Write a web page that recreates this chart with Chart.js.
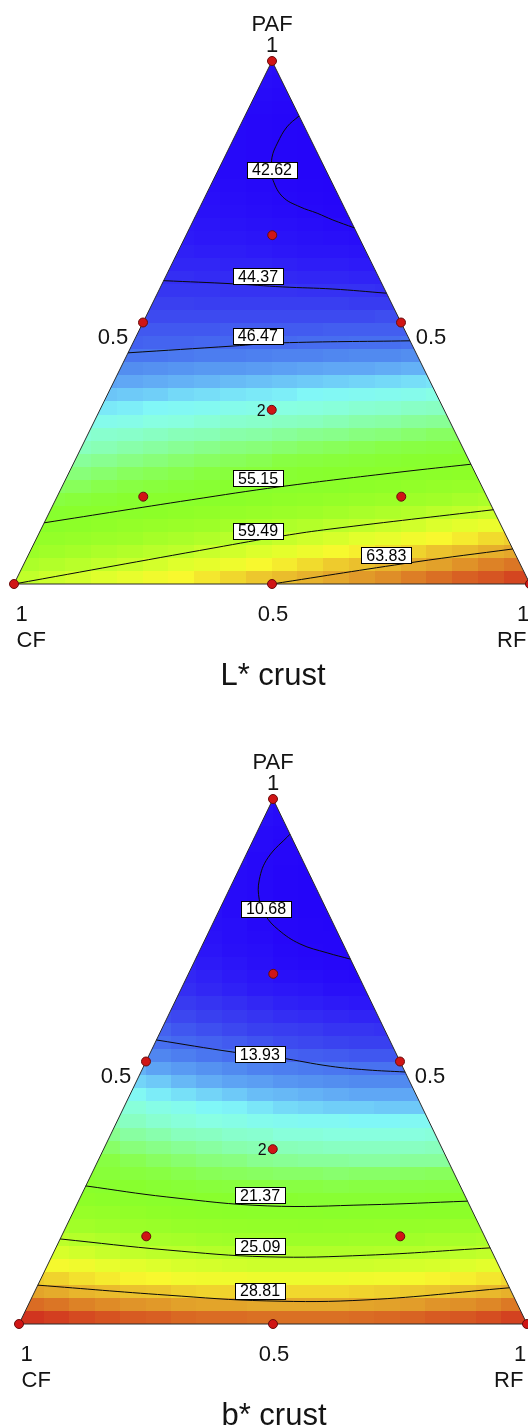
<!DOCTYPE html>
<html>
<head>
<meta charset="utf-8">
<script src="https://cdn.jsdelivr.net/npm/chart.js@4.4.1/dist/chart.umd.min.js"></script>
<style>
html,body{margin:0;padding:0;background:#ffffff;}
canvas{display:block;}
</style>
</head>
<body>
<canvas id="c1" width="528" height="713"></canvas>
<canvas id="c2" width="528" height="714"></canvas>
<script>
// ---------------- DATA ----------------
const tickText = ['1', '0.5'];
const cornerNames = ['PAF', 'CF', 'RF'];

// triangle frame in mixture fractions (PAF, RF); CF = 1 - PAF - RF
const framePAF = [0, 0, 1, 0];
const frameRF  = [0, 1, 0, 0];

// design points (augmented simplex-centroid)
const designPAF = [1, 0, 0, 0.5, 0.5, 0, 0.333, 0.667, 0.167, 0.167];
const designRF  = [0, 0, 1, 0, 0.5, 0.5, 0.333, 0.167, 0.167, 0.667];
const designReps = [1, 1, 1, 1, 1, 1, 2, 1, 1, 1];

// ----- L* crust -----
const lTitle = 'L* crust';
const lLevels = ['42.62', '44.37', '46.47', '55.15', '59.49', '63.83'];
const lContourPAF = [
  [0.895, 0.874, 0.843, 0.816, 0.792, 0.772, 0.740, 0.721, 0.709, 0.696, 0.681],
  [0.580, 0.574, 0.568, 0.564, 0.556],
  [0.442, 0.455, 0.461, 0.465],
  [0.117, 0.161, 0.186, 0.214, 0.229],
  [0.000, 0.069, 0.092, 0.105, 0.142],
  [0.000, 0.042, 0.067]
];
const lContourRF = [
  [0.105, 0.092, 0.089, 0.092, 0.104, 0.116, 0.151, 0.194, 0.233, 0.270, 0.319],
  [0.000, 0.137, 0.237, 0.336, 0.444],
  [0.000, 0.197, 0.285, 0.535],
  [0.000, 0.263, 0.423, 0.641, 0.771],
  [0.000, 0.353, 0.475, 0.560, 0.858],
  [0.500, 0.756, 0.933]
];
const lLabelPAF = [0.792, 0.588, 0.475, 0.202, 0.102, 0.055];
const lLabelRF  = [0.104, 0.179, 0.235, 0.372, 0.422, 0.694];
const lColorRange = [42.0, 67.5];
// response grid: 40 rows (PAF bands, bottom->top), cells of 1/20 width centred in each row
const lGrid = [
  [59.7,60.1,60.4,60.8,61.2,61.6,61.9,62.3,62.7,63.1,63.4,63.8,64.2,64.6,64.9,65.3,65.7,66.1,66.4,66.8],
  [58.6,58.9,59.3,59.7,60.0,60.4,60.8,61.1,61.5,61.9,62.2,62.6,63.0,63.3,63.7,64.1,64.4,64.8,65.2,65.5],
  [57.5,57.9,58.2,58.6,58.9,59.3,59.6,60.0,60.3,60.7,61.0,61.4,61.8,62.1,62.5,62.8,63.2,63.5,63.9,64.2],
  [56.5,56.8,57.1,57.5,57.8,58.2,58.5,58.8,59.2,59.5,59.9,60.2,60.5,60.9,61.2,61.6,61.9,62.2,62.6,62.9],
  [55.8,56.1,56.4,56.8,57.1,57.4,57.7,58.1,58.4,58.7,59.0,59.4,59.7,60.0,60.3,60.7,61.0,61.3],
  [54.8,55.1,55.4,55.7,56.0,56.3,56.6,56.9,57.2,57.5,57.8,58.1,58.4,58.7,59.0,59.4,59.7,60.0],
  [53.8,54.1,54.4,54.7,55.0,55.2,55.5,55.8,56.1,56.4,56.6,56.9,57.2,57.5,57.8,58.0,58.3,58.6],
  [53.0,53.2,53.5,53.7,54.0,54.3,54.5,54.8,55.0,55.3,55.6,55.8,56.1,56.3,56.6,56.9,57.1,57.4],
  [52.6,52.8,53.1,53.3,53.5,53.8,54.0,54.2,54.5,54.7,54.9,55.2,55.4,55.6,55.9,56.1],
  [52.0,52.2,52.4,52.6,52.8,53.0,53.2,53.4,53.7,53.9,54.1,54.3,54.5,54.7,54.9,55.1],
  [51.3,51.5,51.7,51.9,52.1,52.3,52.5,52.6,52.8,53.0,53.2,53.4,53.6,53.7,53.9,54.1],
  [50.7,50.9,51.0,51.2,51.4,51.5,51.7,51.8,52.0,52.2,52.3,52.5,52.6,52.8,53.0,53.1],
  [50.1,50.2,50.4,50.5,50.7,50.9,51.0,51.2,51.3,51.5,51.7,51.8,52.0,52.1],
  [49.4,49.5,49.7,49.8,49.9,50.1,50.2,50.4,50.5,50.6,50.8,50.9,51.1,51.2],
  [48.7,48.8,48.9,49.1,49.2,49.3,49.4,49.5,49.7,49.8,49.9,50.0,50.1,50.3],
  [48.0,48.1,48.2,48.3,48.4,48.5,48.6,48.7,48.8,48.9,49.0,49.1,49.2,49.3],
  [47.4,47.5,47.6,47.7,47.7,47.8,47.9,48.0,48.1,48.1,48.2,48.3],
  [46.7,46.7,46.8,46.9,46.9,47.0,47.1,47.1,47.2,47.3,47.3,47.4],
  [46.0,46.1,46.1,46.2,46.2,46.3,46.3,46.4,46.4,46.5,46.5,46.6],
  [45.7,45.7,45.7,45.7,45.8,45.8,45.8,45.8,45.9,45.9,45.9,45.9],
  [45.3,45.3,45.3,45.3,45.3,45.3,45.3,45.3,45.3,45.4],
  [45.0,45.0,44.9,44.9,44.9,44.9,44.9,44.9,44.8,44.8],
  [44.6,44.6,44.6,44.5,44.5,44.5,44.4,44.4,44.4,44.3],
  [44.3,44.3,44.2,44.2,44.1,44.1,44.0,44.0,43.9,43.9],
  [44.0,44.0,43.9,43.9,43.8,43.7,43.7,43.6],
  [43.8,43.7,43.7,43.6,43.5,43.4,43.4,43.3],
  [43.6,43.5,43.5,43.4,43.3,43.2,43.1,43.0],
  [43.5,43.4,43.3,43.2,43.1,43.0,42.9,42.8],
  [43.2,43.1,43.0,42.9,42.8,42.7],
  [43.1,43.0,42.9,42.8,42.7,42.6],
  [43.0,42.9,42.8,42.7,42.6,42.5],
  [42.9,42.8,42.7,42.6,42.5,42.4],
  [42.8,42.7,42.6,42.5],
  [42.8,42.7,42.6,42.5],
  [42.8,42.7,42.6,42.5],
  [42.8,42.7,42.6,42.5],
  [42.8,42.7],
  [42.9,42.8],
  [43.0,42.9],
  [43.1,43.0]
];

// ----- b* crust -----
const bTitle = 'b* crust';
const bLevels = ['10.68', '13.93', '21.37', '25.09', '28.81'];
const bContourPAF = [
  [0.933, 0.888, 0.846, 0.808, 0.779, 0.751, 0.724, 0.707, 0.695],
  [0.541, 0.518, 0.507, 0.491, 0.484, 0.480],
  [0.263, 0.242, 0.225, 0.227, 0.234],
  [0.162, 0.141, 0.128, 0.131, 0.145],
  [0.074, 0.055, 0.044, 0.046, 0.069]
];
const bContourRF = [
  [0.067, 0.046, 0.050, 0.069, 0.095, 0.135, 0.191, 0.253, 0.305],
  [0.000, 0.162, 0.260, 0.367, 0.443, 0.520],
  [0.000, 0.170, 0.376, 0.572, 0.766],
  [0.000, 0.221, 0.424, 0.619, 0.855],
  [0.000, 0.264, 0.466, 0.662, 0.931]
];
const bLabelPAF = [0.791, 0.514, 0.245, 0.148, 0.063];
const bLabelRF  = [0.091, 0.217, 0.352, 0.401, 0.443];
const bColorRange = [10.0, 32.2];
const bGrid = [
  [32.0,31.8,31.5,31.3,31.1,31.0,30.8,30.7,30.7,30.6,30.6,30.6,30.6,30.7,30.8,30.9,31.1,31.2,31.4,31.7],
  [30.7,30.5,30.2,30.0,29.8,29.7,29.5,29.4,29.4,29.3,29.3,29.3,29.3,29.4,29.5,29.6,29.8,29.9,30.1,30.4],
  [29.4,29.2,28.9,28.7,28.5,28.4,28.2,28.1,28.1,28.0,28.0,28.0,28.0,28.1,28.2,28.3,28.4,28.6,28.8,29.0],
  [28.3,28.1,27.8,27.6,27.4,27.3,27.1,27.0,27.0,26.9,26.9,26.9,26.9,27.0,27.1,27.2,27.4,27.5,27.7,28.0],
  [27.2,27.0,26.7,26.5,26.3,26.1,26.0,25.9,25.8,25.8,25.8,25.8,25.8,25.9,26.0,26.1,26.3,26.5],
  [26.1,25.9,25.6,25.4,25.2,25.1,24.9,24.8,24.7,24.7,24.7,24.7,24.7,24.8,24.9,25.0,25.2,25.4],
  [25.2,24.9,24.6,24.4,24.2,24.1,23.9,23.8,23.8,23.7,23.7,23.7,23.8,23.8,23.9,24.1,24.2,24.4],
  [24.2,23.9,23.7,23.5,23.3,23.1,23.0,22.9,22.8,22.8,22.7,22.8,22.8,22.9,23.0,23.1,23.3,23.4],
  [23.2,23.0,22.7,22.5,22.3,22.1,22.0,21.9,21.8,21.8,21.7,21.8,21.8,21.9,22.0,22.1],
  [22.4,22.1,21.8,21.6,21.4,21.3,21.1,21.0,21.0,20.9,20.9,20.9,20.9,21.0,21.1,21.3],
  [21.6,21.3,21.1,20.9,20.7,20.5,20.4,20.3,20.2,20.2,20.1,20.2,20.2,20.3,20.4,20.5],
  [20.9,20.6,20.4,20.2,20.0,19.8,19.7,19.6,19.5,19.5,19.4,19.5,19.5,19.6,19.7,19.8],
  [20.2,19.9,19.6,19.4,19.2,19.1,18.9,18.8,18.7,18.7,18.6,18.6,18.7,18.7],
  [19.5,19.2,19.0,18.8,18.6,18.4,18.3,18.2,18.1,18.0,18.0,18.0,18.0,18.1],
  [18.9,18.6,18.4,18.1,18.0,17.8,17.7,17.5,17.5,17.4,17.4,17.4,17.4,17.5],
  [18.3,18.0,17.7,17.5,17.3,17.2,17.0,16.9,16.8,16.8,16.7,16.7,16.8,16.8],
  [17.5,17.2,17.0,16.7,16.6,16.4,16.2,16.1,16.0,16.0,15.9,15.9],
  [16.8,16.5,16.3,16.1,15.9,15.7,15.6,15.5,15.4,15.3,15.3,15.3],
  [16.1,15.9,15.6,15.4,15.2,15.1,14.9,14.8,14.7,14.6,14.6,14.6],
  [15.5,15.2,15.0,14.8,14.6,14.4,14.3,14.2,14.1,14.0,14.0,13.9],
  [14.5,14.3,14.1,13.9,13.7,13.5,13.4,13.3,13.2,13.2],
  [13.9,13.7,13.5,13.3,13.1,12.9,12.8,12.7,12.6,12.6],
  [13.5,13.2,13.0,12.8,12.6,12.5,12.4,12.2,12.2,12.1],
  [13.0,12.8,12.6,12.4,12.2,12.0,11.9,11.8,11.7,11.7],
  [12.4,12.2,12.0,11.8,11.6,11.5,11.4,11.3],
  [12.0,11.8,11.6,11.4,11.3,11.2,11.0,11.0],
  [11.8,11.6,11.4,11.2,11.0,10.9,10.8,10.7],
  [11.6,11.4,11.2,11.0,10.8,10.7,10.6,10.5],
  [11.2,11.0,10.9,10.7,10.6,10.5],
  [11.1,10.9,10.8,10.6,10.5,10.5],
  [11.0,10.9,10.7,10.6,10.5,10.4],
  [11.0,10.8,10.7,10.5,10.4,10.4],
  [10.8,10.7,10.5,10.4],
  [10.8,10.7,10.5,10.4],
  [10.8,10.7,10.5,10.4],
  [10.9,10.7,10.6,10.5],
  [10.8,10.6],
  [10.8,10.7],
  [10.9,10.8],
  [11.0,10.8]
];

// ---------------- STYLE ----------------
const FONT = '"Liberation Sans", Arial, Helvetica, sans-serif';
const colorStops = [
  [0.00, 34, 0, 250], [0.03, 38, 8, 249], [0.06, 44, 24, 248], [0.09, 52, 46, 243],
  [0.12, 58, 66, 240], [0.15, 66, 92, 240], [0.18, 72, 114, 240], [0.21, 82, 140, 240],
  [0.24, 96, 168, 245], [0.27, 112, 206, 248], [0.30, 128, 246, 248], [0.33, 136, 255, 226],
  [0.37, 136, 255, 184], [0.40, 136, 255, 144], [0.43, 136, 255, 100], [0.46, 136, 255, 66],
  [0.50, 136, 255, 46], [0.55, 140, 255, 40], [0.62, 158, 255, 40], [0.69, 190, 255, 42],
  [0.74, 225, 255, 44], [0.78, 248, 248, 46], [0.83, 236, 196, 45], [0.88, 226, 160, 42],
  [0.93, 218, 110, 36], [1.00, 208, 45, 30]
];
const geo1 = { h: 713, left: 14, width: 516, bottom: 584, height: 523 };
const geo2 = { h: 714, left: 19, width: 508, bottom: 611, height: 525 };

function colorAt(v, range) {
  let t = (v - range[0]) / (range[1] - range[0]);
  t = Math.max(0, Math.min(1, t));
  for (let i = 1; i < colorStops.length; i++) {
    if (t <= colorStops[i][0]) {
      const a = colorStops[i - 1], b = colorStops[i];
      const f = (t - a[0]) / (b[0] - a[0]);
      const r = Math.round(a[1] + (b[1] - a[1]) * f);
      const g = Math.round(a[2] + (b[2] - a[2]) * f);
      const bl = Math.round(a[3] + (b[3] - a[3]) * f);
      return 'rgb(' + r + ',' + g + ',' + bl + ')';
    }
  }
  const l = colorStops[colorStops.length - 1];
  return 'rgb(' + l[1] + ',' + l[2] + ',' + l[3] + ')';
}

// ternary (PAF, RF) -> cartesian data coordinates
function toPt(paf, rf) { return { x: rf + paf / 2, y: paf }; }

function makeChart(id, geo, title, grid, range, levels, cPAF, cRF, labPAF, labRF) {
  const px = (chart, paf, rf) => {
    const p = toPt(paf, rf);
    return { x: chart.scales.x.getPixelForValue(p.x), y: chart.scales.y.getPixelForValue(p.y) };
  };

  const heatPlugin = {
    id: 'heat_' + id,
    beforeDatasetsDraw(chart) {
      const ctx = chart.ctx, xs = chart.scales.x, ys = chart.scales.y;
      const nRows = grid.length, nCols = grid[0].length;
      ctx.save();
      ctx.beginPath();
      framePAF.forEach((p, i) => {
        const q = px(chart, p, frameRF[i]);
        if (i === 0) ctx.moveTo(q.x, q.y); else ctx.lineTo(q.x, q.y);
      });
      ctx.closePath();
      ctx.clip();
      for (let j = 0; j < nRows; j++) {
        const row = grid[j];
        const off = (nCols - row.length) / 2;
        const yTop = ys.getPixelForValue((j + 1) / nRows);
        const yBot = ys.getPixelForValue(j / nRows);
        for (let i = 0; i < row.length; i++) {
          const k = off + i;
          const xL = xs.getPixelForValue(k / nCols);
          const xR = xs.getPixelForValue((k + 1) / nCols);
          ctx.fillStyle = colorAt(row[i], range);
          const x0 = Math.floor(xL), y0 = Math.floor(yTop);
          ctx.fillRect(x0, y0, Math.ceil(xR) - x0, Math.ceil(yBot) - y0);
        }
      }
      ctx.restore();
    }
  };

  const labelPlugin = {
    id: 'labels_' + id,
    afterDatasetsDraw(chart) {
      const ctx = chart.ctx;
      ctx.save();
      ctx.font = '16px ' + FONT;
      ctx.textAlign = 'center';
      ctx.textBaseline = 'middle';
      levels.forEach((lv, i) => {
        const q = px(chart, labPAF[i], labRF[i]);
        const w = Math.round(ctx.measureText(lv).width) + 10, h = 16;
        const bx = Math.round(q.x - w / 2) + 0.5, by = Math.round(q.y - h / 2) + 0.5;
        ctx.fillStyle = '#ffffff';
        ctx.fillRect(bx, by, w, h);
        ctx.strokeStyle = '#000000';
        ctx.lineWidth = 1;
        ctx.strokeRect(bx, by, w, h);
        ctx.fillStyle = '#000000';
        ctx.fillText(lv, q.x, q.y + 1);
      });
      // replicate count beside design point
      ctx.font = '16px ' + FONT;
      ctx.textAlign = 'right';
      ctx.textBaseline = 'alphabetic';
      designReps.forEach((r, i) => {
        if (r > 1) {
          const q = px(chart, designPAF[i], designRF[i]);
          ctx.fillStyle = '#111111';
          ctx.fillText(String(r), q.x - 6, q.y + 6);
        }
      });
      ctx.restore();
    },
    afterDraw(chart) {
      const ctx = chart.ctx;
      const apex = px(chart, 1, 0), cfV = px(chart, 0, 0), rfV = px(chart, 0, 1);
      const lMid = px(chart, 0.5, 0), rMid = px(chart, 0.5, 0.5), bMid = px(chart, 0, 0.5);
      ctx.save();
      ctx.fillStyle = '#141414';
      ctx.textBaseline = 'alphabetic';
      ctx.font = '22px ' + FONT;
      ctx.textAlign = 'center';
      ctx.fillText(cornerNames[0], apex.x, apex.y - 30);
      ctx.fillText(tickText[0], apex.x, apex.y - 9);
      ctx.fillText(tickText[1], lMid.x - 30, lMid.y + 21.5);
      ctx.fillText(tickText[1], rMid.x + 30, rMid.y + 21.5);
      ctx.fillText(tickText[1], bMid.x + 1, bMid.y + 37);
      ctx.fillText(tickText[0], cfV.x + 7.5, cfV.y + 37);
      ctx.fillText(tickText[0], rfV.x - 7, rfV.y + 37);
      ctx.textAlign = 'left';
      ctx.fillText(cornerNames[1], cfV.x + 2.5, cfV.y + 63);
      ctx.fillText(cornerNames[2], rfV.x - 33, rfV.y + 63);
      ctx.textAlign = 'center';
      ctx.font = '31px ' + FONT;
      ctx.fillText(title, bMid.x + 1, bMid.y + 101);
      ctx.restore();
    }
  };

  const datasets = [];
  datasets.push({
    label: 'design points',
    data: designPAF.map((p, i) => toPt(p, designRF[i])),
    showLine: false,
    pointRadius: 4.5,
    pointBackgroundColor: '#d01515',
    pointBorderColor: '#6a0c0c',
    pointBorderWidth: 1,
    order: 0,
    clip: false
  });
  levels.forEach((lv, i) => {
    datasets.push({
      label: lv,
      data: cPAF[i].map((p, k) => toPt(p, cRF[i][k])),
      showLine: true,
      borderColor: '#0a0a0a',
      borderWidth: 1,
      pointRadius: 0,
      tension: 0.4,
      fill: false,
      order: 1,
      clip: false
    });
  });
  datasets.push({
    label: 'frame',
    data: framePAF.map((p, i) => toPt(p, frameRF[i])),
    showLine: true,
    borderColor: '#2a2a2a',
    borderWidth: 1,
    pointRadius: 0,
    tension: 0,
    fill: false,
    order: 2,
    clip: false
  });

  return new Chart(document.getElementById(id), {
    type: 'scatter',
    data: { datasets },
    options: {
      responsive: false,
      maintainAspectRatio: false,
      animation: false,
      events: [],
      devicePixelRatio: 1,
      layout: { padding: 0, autoPadding: false },
      scales: {
        x: { type: 'linear', display: false, min: -geo.left / geo.width, max: (528 - geo.left) / geo.width },
        y: { type: 'linear', display: false, min: (geo.bottom - geo.h) / geo.height, max: geo.bottom / geo.height }
      },
      plugins: { legend: { display: false }, tooltip: { enabled: false }, title: { display: false } }
    },
    plugins: [heatPlugin, labelPlugin]
  });
}

makeChart('c1', geo1, lTitle, lGrid, lColorRange, lLevels, lContourPAF, lContourRF, lLabelPAF, lLabelRF);
makeChart('c2', geo2, bTitle, bGrid, bColorRange, bLevels, bContourPAF, bContourRF, bLabelPAF, bLabelRF);
</script>
</body>
</html>
